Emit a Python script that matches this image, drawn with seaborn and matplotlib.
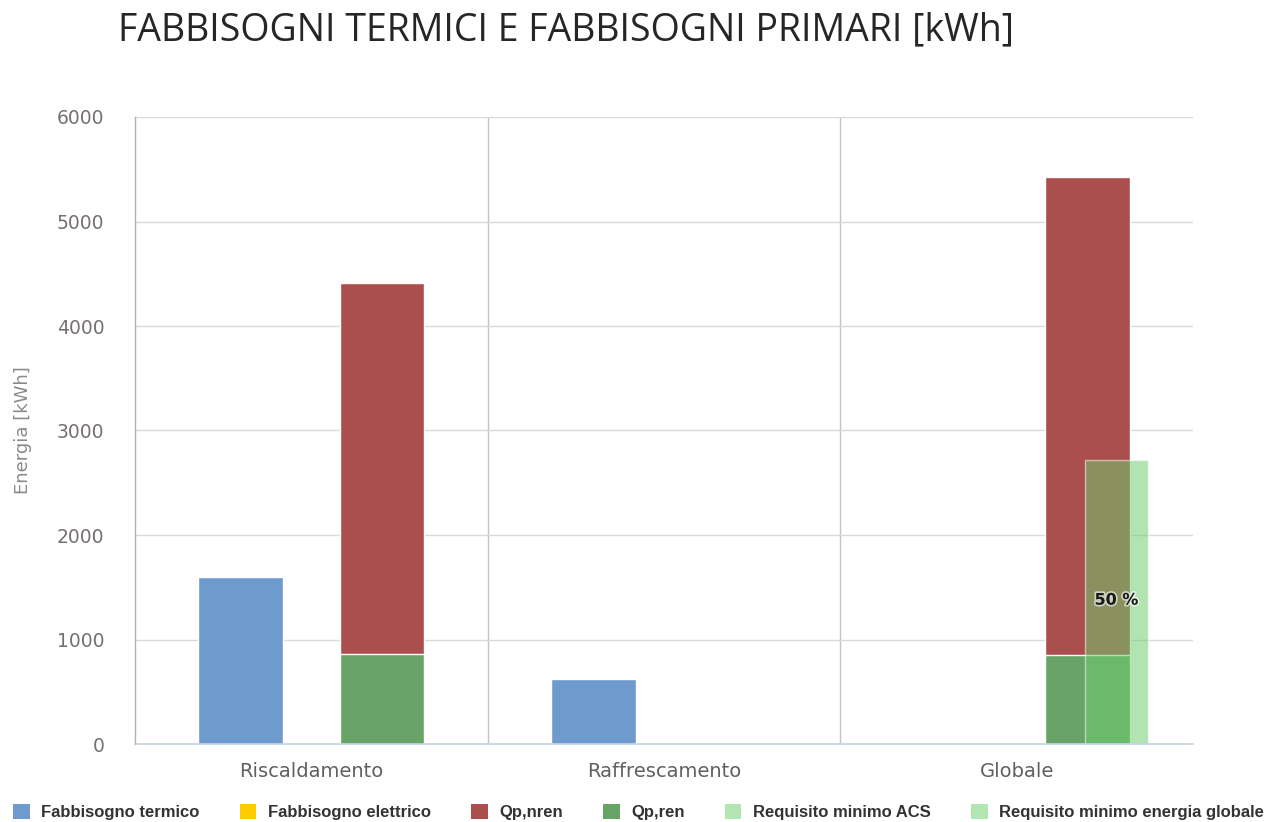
import numpy as np
import pandas as pd
import matplotlib
matplotlib.use("Agg")
import matplotlib.pyplot as plt
import matplotlib.patheffects as pe
from matplotlib.patches import Patch
from matplotlib.ticker import FixedLocator
import seaborn as sns

# ---------------- data ----------------
categories = ["Riscaldamento", "Raffrescamento", "Globale"]
fabbisogno_termico = [1600, 620, 0]
fabbisogno_elettrico = [0, 0, 0]
qp_nren = [3550, 0, 4576]
qp_ren = [860, 0, 850]
requisito_acs = [0, 0, 0]
requisito_globale = [0, 0, 2713]
requisito_label = ["", "", "50 %"]
y_ticks = [0, 1000, 2000, 3000, 4000, 5000, 6000]

legend_labels = ["Fabbisogno termico", "Fabbisogno elettrico", "Qp,nren",
                 "Qp,ren", "Requisito minimo ACS", "Requisito minimo energia globale"]

# ---------------- style ----------------
sns.set_theme(style="white")
plt.rcParams["font.family"] = ["DejaVu Sans"]

c_blue = "#6f9acd"
c_yellow = "#ffcc00"
c_red = "#aa4f4d"
c_green = "#68a468"
c_req = (110 / 255, 204 / 255, 110 / 255)
c_req_legend = "#b3e6b3"

fig = plt.figure(figsize=(12.77, 8.22), dpi=100)
ax = fig.add_axes([135 / 1277, 1 - 744 / 822, (1193 - 135) / 1277, (744 - 117) / 822])

hue_order = ["termico", "primario"]
total_primario = [n + r for n, r in zip(qp_nren, qp_ren)]

def draw(values, grp, color):
    df = pd.DataFrame({"cat": categories, "val": values, "grp": grp})
    df = df[df["val"] > 0]
    sns.barplot(data=df, x="cat", y="val", hue="grp", hue_order=hue_order,
                order=categories, palette={h: color for h in hue_order},
                dodge=True, width=0.8, gap=0.4, errorbar=None, legend=False,
                edgecolor="white", linewidth=1, saturation=1, ax=ax, zorder=3)

draw(fabbisogno_termico, "termico", c_blue)
draw(total_primario, "primario", c_red)
draw(qp_ren, "primario", c_green)

# requisito minimo (overlay bar)
req_off, req_w = 0.283, 0.176
for i, v in enumerate(requisito_globale):
    if v > 0:
        ax.bar(i + req_off, v, width=req_w, color=c_req, alpha=0.53,
               edgecolor="white", linewidth=1, zorder=4)
        ax.text(i + req_off, v / 2 + 20, requisito_label[i], ha="center", va="center",
                fontsize=11.5, fontweight="bold", color="#1a1a1a", zorder=6,
                path_effects=[pe.withStroke(linewidth=2.5, foreground=(1, 1, 1, 0.6))])

# ---------------- axes ----------------
ax.set_xlim(-0.5, 2.5)
ax.set_ylim(0, 6000)
ax.set_yticks(y_ticks)
ax.set_yticklabels([str(t) for t in y_ticks], color="#767070", fontsize=13.5)
ax.yaxis.grid(True, color="#d9d9d9", linewidth=1, zorder=0)
ax.xaxis.set_minor_locator(FixedLocator([-0.5, 0.5, 1.5, 2.5]))
ax.xaxis.grid(True, which="minor", color="#c4c4c4", linewidth=1, zorder=0)
ax.xaxis.grid(False, which="major")
minor_ticks = ax.xaxis.get_minor_ticks()
minor_ticks[0].gridline.set_visible(False)
minor_ticks[-1].gridline.set_visible(False)
ax.set_axisbelow(True)
ax.tick_params(axis="x", which="major", length=0, pad=13)
ax.tick_params(axis="x", which="minor", length=16, color="#c6d4e2", width=1)
ax.tick_params(axis="y", length=0, pad=22)
ax.set_xticks(range(len(categories)))
ax.set_xticklabels(categories, color="#606060", fontsize=14)
ax.set_xlabel("")
ax.set_ylabel("Energia [kWh]", color="#8a8a8a", fontsize=13)
ax.yaxis.set_label_coords((32 - 135) / 1058, 0.5)

for s in ["top", "right"]:
    ax.spines[s].set_visible(False)
ax.spines["left"].set_color("#b0b0b0")
ax.spines["left"].set_linewidth(1)
ax.spines["bottom"].set_color("#c6d4e2")
ax.spines["bottom"].set_linewidth(1.2)
ax.spines["bottom"].set_zorder(5)

# ---------------- title ----------------
fig.text(118 / 1277, 1 - 30 / 822, "FABBISOGNI TERMICI E FABBISOGNI PRIMARI [kWh]",
         fontsize=27, color="#262626", va="center", ha="left",
         family=["Open Sans", "DejaVu Sans"])

# ---------------- legend ----------------
legend_colors = [c_blue, c_yellow, c_red, c_green, c_req_legend, c_req_legend]
handles = [Patch(facecolor=c, edgecolor="none") for c in legend_colors]
leg = fig.legend(handles, legend_labels, loc="center", bbox_to_anchor=(0.5, 1 - 812 / 822),
                 ncol=6, frameon=False, handlelength=1.0, handleheight=1.0,
                 handletextpad=0.7, columnspacing=2.4,
                 prop={"family": ["Liberation Sans", "DejaVu Sans"],
                       "weight": "bold", "size": 12})
for t in leg.get_texts():
    t.set_color("#333333")

fig.savefig("out.png", dpi=100)
